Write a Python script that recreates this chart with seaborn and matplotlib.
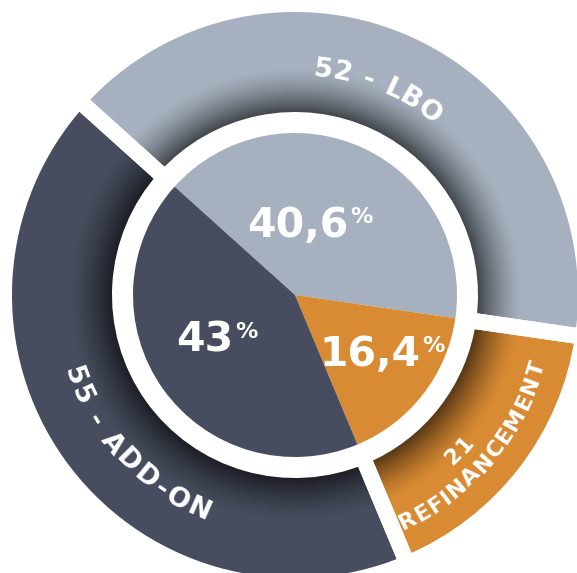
import numpy as np
import matplotlib.pyplot as plt
import seaborn as sns
from matplotlib.colors import to_rgb
from matplotlib.font_manager import FontProperties

# data
categories = ['LBO', 'REFINANCEMENT', 'ADD-ON']
counts = [52, 21, 55]
pct_labels = ['40,6', '16,4', '43']
ring_labels = ['52 - LBO', ['21', 'REFINANCEMENT'], '55 - ADD-ON']
colors = ['#a6b0be', '#d98b33', '#474d5e']

sns.set_theme(style='white')
plt.rcParams['font.family'] = ['DejaVu Sans']
FONT = 'DejaVu Sans'

fig = plt.figure(figsize=(5.77, 5.73), dpi=100)
ax = fig.add_axes([0, 0, 1, 1])

START = 138
R_OUT, R_IN = 291, 175      # outer ring, padded by half of the white gap stroke
R_VIS = 183                 # visible inner edge of the ring
GAP = 11.5
R_PIE = 162
pie_kw = dict(startangle=START, counterclock=False)

# outer ring
ax.pie(counts, radius=R_OUT, colors=colors,
       wedgeprops=dict(width=R_OUT - R_IN, linewidth=0), **pie_kw)

# shadow on the inner edge of the ring: opaque nested rings, darker inwards
L = 44
D_MAX = 0.6
for k in range(L, 0, -1):
    dark = D_MAX * (1 - (k - 0.5) / L) ** 1.4
    shade = [tuple(c * (1 - dark) for c in to_rgb(col)) for col in colors]
    ax.pie(counts, radius=R_VIS + k, colors=shade,
           wedgeprops=dict(width=R_VIS + k - R_IN, linewidth=0), **pie_kw)

# white gaps between the ring segments
ax.pie(counts, radius=R_OUT, colors=['none'] * 3,
       wedgeprops=dict(width=R_OUT - R_IN, edgecolor='white', linewidth=GAP,
                       joinstyle='round'), **pie_kw)

# inner pie
ax.pie(counts, radius=R_PIE, colors=colors, wedgeprops=dict(linewidth=0), **pie_kw)

renderer = fig.canvas.get_renderer()


def arc_text(text, r_mid, theta_c, size, ccw, track):
    fp = FontProperties(family=FONT, weight='bold', size=size)

    def w(s):
        return renderer.get_text_width_height_descent(s, fp, ismath=False)[0]

    cap = renderer.get_text_width_height_descent('H', fp, ismath=False)[1]
    total = w(text) + track * (len(text) - 1)
    sign = 1 if ccw else -1
    r_base = r_mid + cap / 2 if ccw else r_mid - cap / 2
    for i, ch in enumerate(text):
        if ch == ' ':
            continue
        s = w(text[:i + 1]) - w(ch) / 2 + track * i - total / 2
        th = np.radians(theta_c) + sign * s / r_mid
        rot = np.degrees(th) + (90 if ccw else -90)
        ax.text(r_base * np.cos(th), r_base * np.sin(th), ch, fontproperties=fp,
                rotation=rot, rotation_mode='anchor', ha='center', va='baseline',
                color='white')


arc_text(ring_labels[0], 230, 68, 19.5, False, 1.3)
arc_text(ring_labels[2], 233, 223.3, 19.5, True, 1.5)
arc_text(ring_labels[1][0], 224, -43.4, 15.5, True, 0.8)
arc_text(ring_labels[1][1], 251, -40.3, 16, True, 0.6)

# percentages in the inner pie
pct_pos = [(3, 58), (75, -71), (-90, -57)]
for lab, (x, y) in zip(pct_labels, pct_pos):
    t = ax.text(x, y, lab, ha='center', va='baseline', fontsize=29.5,
                fontweight='bold', color='white')
    ax.annotate('%', xy=(1, 1), xycoords=t, xytext=(1.5, -1),
                textcoords='offset points', ha='left', va='top', fontsize=16,
                fontweight='bold', color='white')

ax.set_xlim(-295, 282)
ax.set_ylim(-278, 295)
ax.set_aspect('equal')
ax.axis('off')

fig.savefig('out.png', dpi=100)
